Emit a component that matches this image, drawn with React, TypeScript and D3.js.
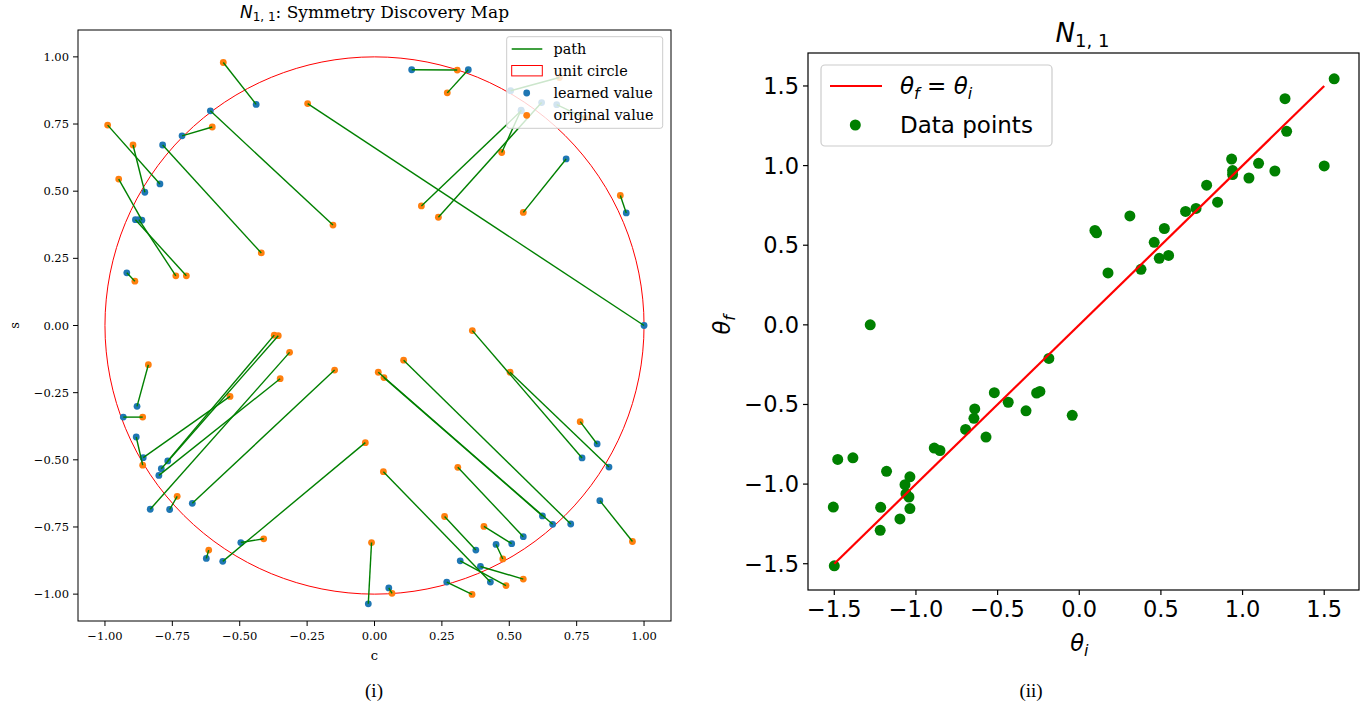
import React from 'react';
import * as d3 from 'd3';

// ---------- Left panel data: original value (c, s) -> learned value (c, s) ----------
const origC = [-0.561, -0.248, -0.154, -0.602, -0.990, -0.896, -0.420, -0.949, -0.737, -0.698, -0.889,
  0.307, 0.270, 0.686, 0.472, 0.237, 0.174, 0.781, 0.552, 0.912,
  -0.839, -0.860, -0.860, -0.536, -0.372, -0.357, -0.350, -0.315, -0.148, -0.732, -0.411, -0.034, -0.615, -0.011,
  0.363, 0.503, 0.763, 0.108, 0.014, 0.035, 0.957, 0.033, 0.309, 0.260, 0.406, 0.476, 0.488, 0.552, 0.362, 0.065];
const origS = [0.979, 0.826, 0.374, 0.739, 0.746, 0.672, 0.270, 0.545, 0.185, 0.185, 0.165,
  0.951, 0.866, 0.923, 0.644, 0.403, 0.445, 0.772, 0.421, 0.484,
  -0.146, -0.341, -0.520, -0.264, -0.036, -0.038, -0.198, -0.100, -0.166, -0.636, -0.794, -0.436, -0.836, -0.808,
  -0.019, -0.174, -0.358, -0.129, -0.174, -0.194, -0.804, -0.544, -0.528, -0.711, -0.748, -0.869, -0.968, -0.944, -1.001, -0.997];
const learnC = [-0.439, 1.0, -0.609, -0.714, -0.796, -0.852, -0.786, -0.863, -0.874, -0.887, -0.919,
  0.138, 0.348, 0.505, 0.544, 0.620, 0.544, 0.676, 0.711, 0.934,
  -0.881, -0.932, -0.884, -0.858, -0.767, -0.791, -0.800, -0.832, -0.676, -0.760, -0.496, -0.563, -0.624, -0.023,
  0.770, 0.870, 0.826, 0.728, 0.661, 0.623, 0.836, 0.430, 0.552, 0.376, 0.509, 0.451, 0.318, 0.393, 0.268, 0.053];
const learnS = [0.823, 0.0, 0.799, 0.706, 0.527, 0.496, 0.672, 0.392, 0.394, 0.394, 0.196,
  0.952, 0.952, 0.874, 0.802, 0.830, 0.799, 0.822, 0.620, 0.419,
  -0.301, -0.341, -0.415, -0.492, -0.504, -0.533, -0.558, -0.684, -0.662, -0.685, -0.808, -0.878, -0.867, -1.036,
  -0.493, -0.527, -0.441, -0.739, -0.740, -0.709, -0.652, -0.955, -0.786, -0.836, -0.812, -0.815, -0.876, -0.897, -0.955, -0.977];

// ---------- Right panel data: theta_i vs theta_f ----------
const thetaI = [1.561, 1.260, 1.270, 1.500, 0.933, 0.939, 0.939, 1.098, 1.198, 1.039, 0.780, 0.847, 0.715, 0.651,
  0.310, 0.096, 0.106, 0.521, 0.459, 0.490, 0.547, 0.378, 0.176,
  -1.280, -0.186, -0.520, -0.435, -0.261, -0.241, -0.326, -0.043, -0.640, -0.645, -0.696, -0.571, -0.888, -0.853,
  -1.479, -1.386, -1.180, -1.037, -1.067, -1.061, -1.043, -1.037, -1.506, -1.216, -1.098, -1.219, -1.500];
const thetaF = [1.545, 1.420, 1.215, 0.998, 1.041, 0.969, 0.944, 1.014, 0.966, 0.922, 0.877, 0.770, 0.731, 0.712,
  0.684, 0.593, 0.578, 0.605, 0.518, 0.418, 0.436, 0.349, 0.326,
  0.0, -0.211, -0.426, -0.486, -0.428, -0.418, -0.540, -0.568, -0.528, -0.587, -0.657, -0.705, -0.774, -0.789,
  -0.845, -0.835, -0.920, -0.954, -1.004, -1.060, -1.081, -1.154, -1.144, -1.146, -1.219, -1.290, -1.513];
const identityLine = [-1.5, 1.5];

const leftTicks = [-1, -0.75, -0.5, -0.25, 0, 0.25, 0.5, 0.75, 1];
const rightTicks = [-1.5, -1, -0.5, 0, 0.5, 1, 1.5];
const leftLegend = ['path', 'unit circle', 'learned value', 'original value'];

const BLUE = '#1f77b4';
const ORANGE = '#ff7f0e';
const GREEN = '#008000';
const RED = '#ff0000';
const SERIF = '"DejaVu Serif", serif';
const SANS = '"DejaVu Sans", sans-serif';

export default function App() {
  // Left scales
  const xL = d3.scaleLinear().domain([-1.1, 1.1]).range([78, 671]);
  const yL = d3.scaleLinear().domain([-1.1, 1.1]).range([621, 30]);
  // Right scales
  const xR = d3.scaleLinear().domain([-1.661, 1.713]).range([808, 1359]);
  const yR = d3.scaleLinear().domain([-1.665, 1.707]).range([590, 53]);

  const f2 = d3.format('.2f');
  const f1 = d3.format('.1f');

  const pairs = origC.map((c, i) => ({ oc: c, os: origS[i], lc: learnC[i], ls: learnS[i] }));
  const pts = thetaI.map((t, i) => ({ x: t, y: thetaF[i] }));
  const line = d3.line<number>().x((d) => xR(d)).y((d) => yR(d));

  const lx0 = xL.range()[0], lx1 = xL.range()[1];
  const ly0 = yL.range()[1], ly1 = yL.range()[0];
  const rx0 = xR.range()[0], rx1 = xR.range()[1];
  const ry0 = yR.range()[1], ry1 = yR.range()[0];

  return (
    <svg width={1364} height={702} style={{ position: 'absolute', left: 0, top: 0, background: '#fff' }}>
      <rect x={0} y={0} width={1364} height={702} fill="#fff" />

      {/* ================= LEFT PANEL ================= */}
      <defs>
        <clipPath id="clipL">
          <rect x={lx0} y={ly0} width={lx1 - lx0} height={ly1 - ly0} />
        </clipPath>
      </defs>
      <g clipPath="url(#clipL)">
        <ellipse cx={xL(0)} cy={yL(0)} rx={xL(1) - xL(0)} ry={yL(0) - yL(1)} fill="none" stroke={RED} strokeWidth={1} />
        {pairs.map((p, i) => (
          <circle key={'b' + i} cx={xL(p.lc)} cy={yL(p.ls)} r={3.4} fill={BLUE} />
        ))}
        {pairs.map((p, i) => (
          <circle key={'o' + i} cx={xL(p.oc)} cy={yL(p.os)} r={3.4} fill={ORANGE} />
        ))}
        {pairs.map((p, i) => (
          <line key={'l' + i} x1={xL(p.oc)} y1={yL(p.os)} x2={xL(p.lc)} y2={yL(p.ls)} stroke={GREEN} strokeWidth={1.4} />
        ))}
      </g>
      {/* left frame */}
      <rect x={lx0} y={ly0} width={lx1 - lx0} height={ly1 - ly0} fill="none" stroke="#000" strokeWidth={1} />
      {/* left x ticks */}
      {leftTicks.map((t) => (
        <g key={'lx' + t}>
          <line x1={xL(t)} x2={xL(t)} y1={ly1} y2={ly1 + 5} stroke="#000" strokeWidth={1} />
          <text x={xL(t)} y={ly1 + 19} textAnchor="middle" fontFamily={SERIF} fontSize={11.5} fill="#000">{f2(t)}</text>
        </g>
      ))}
      {leftTicks.map((t) => (
        <g key={'ly' + t}>
          <line x1={lx0 - 5} x2={lx0} y1={yL(t)} y2={yL(t)} stroke="#000" strokeWidth={1} />
          <text x={lx0 - 9} y={yL(t) + 4} textAnchor="end" fontFamily={SERIF} fontSize={11.5} fill="#000">{f2(t)}</text>
        </g>
      ))}
      <text x={xL(0)} y={660} textAnchor="middle" fontFamily={SERIF} fontSize={13} fill="#000">c</text>
      <text transform={`translate(19, ${yL(0)}) rotate(-90)`} textAnchor="middle" fontFamily={SERIF} fontSize={13} fill="#000">s</text>
      {/* left title */}
      <text x={xL(0)} y={17.5} textAnchor="middle" fontSize={17} fill="#000">
        <tspan fontFamily={SANS} fontStyle="italic">N</tspan>
        <tspan fontFamily={SANS} fontSize={12} dy={3.5}>1, 1</tspan>
        <tspan fontFamily={SERIF} dy={-3.5}>: Symmetry Discovery Map</tspan>
      </text>
      {/* left legend */}
      <g>
        <rect x={506.7} y={36.7} width={156} height={91.6} rx={2.5} fill="#fff" fillOpacity={0.8} stroke="#cccccc" strokeWidth={1} />
        <line x1={511.7} x2={542.3} y1={49} y2={49} stroke={GREEN} strokeWidth={1.5} />
        <rect x={511.7} y={65.5} width={30.6} height={10.4} fill="none" stroke={RED} strokeWidth={1} />
        <circle cx={526.7} cy={93} r={3.4} fill={BLUE} />
        <circle cx={526.7} cy={115.3} r={3.4} fill={ORANGE} />
        {leftLegend.map((s, i) => (
          <text key={s} x={553.5} y={54 + i * 22.1} fontFamily={SERIF} fontSize={14.4} fill="#000">{s}</text>
        ))}
      </g>

      {/* ================= RIGHT PANEL ================= */}
      {pts.map((p, i) => (
        <circle key={'p' + i} cx={xR(p.x)} cy={yR(p.y)} r={5.5} fill={GREEN} />
      ))}
      <path d={line(identityLine) || ''} stroke={RED} strokeWidth={2.2} fill="none" />
      <rect x={rx0} y={ry0} width={rx1 - rx0} height={ry1 - ry0} fill="none" stroke="#000" strokeWidth={1.2} />
      {rightTicks.map((t) => (
        <g key={'rx' + t}>
          <line x1={xR(t)} x2={xR(t)} y1={ry1} y2={ry1 + 5} stroke="#000" strokeWidth={1.2} />
          <text x={xR(t)} y={ry1 + 27} textAnchor="middle" fontFamily={SANS} fontSize={22.5} fill="#000">{f1(t)}</text>
        </g>
      ))}
      {rightTicks.map((t) => (
        <g key={'ry' + t}>
          <line x1={rx0 - 5} x2={rx0} y1={yR(t)} y2={yR(t)} stroke="#000" strokeWidth={1.2} />
          <text x={rx0 - 9} y={yR(t) + 8} textAnchor="end" fontFamily={SANS} fontSize={22.5} fill="#000">{f1(t)}</text>
        </g>
      ))}
      {/* x label theta_i */}
      <text x={xR(0)} y={651} textAnchor="middle" fontFamily={SANS} fontSize={22.5} fill="#000">
        <tspan fontStyle="italic">θ</tspan>
        <tspan fontStyle="italic" fontSize={16} dy={5}>i</tspan>
      </text>
      {/* y label theta_f */}
      <text transform={`translate(730, ${yR(0)}) rotate(-90)`} textAnchor="middle" fontFamily={SANS} fontSize={22.5} fill="#000">
        <tspan fontStyle="italic">θ</tspan>
        <tspan fontStyle="italic" fontSize={16} dy={5}>f</tspan>
      </text>
      {/* right title */}
      <text x={1082.5} y={42} textAnchor="middle" fontFamily={SANS} fontSize={26} fill="#000">
        <tspan fontStyle="italic">N</tspan>
        <tspan fontSize={18} dy={5}>1, 1</tspan>
      </text>
      {/* right legend */}
      <g>
        <rect x={821} y={65} width={231} height={81} rx={4} fill="#fff" fillOpacity={0.8} stroke="#cccccc" strokeWidth={1.2} />
        <line x1={830} x2={882} y1={86} y2={86} stroke={RED} strokeWidth={2.2} />
        <circle cx={855.3} cy={125} r={5.5} fill={GREEN} />
        <text x={900} y={94} fontFamily={SANS} fontSize={23} fill="#000">
          <tspan fontStyle="italic">θ</tspan>
          <tspan fontStyle="italic" fontSize={16} dy={5}>f</tspan>
          <tspan dy={-5}> = </tspan>
          <tspan fontStyle="italic">θ</tspan>
          <tspan fontStyle="italic" fontSize={16} dy={5}>i</tspan>
        </text>
        <text x={900} y={133} fontFamily={SANS} fontSize={23} fill="#000">Data points</text>
      </g>

      {/* captions */}
      <text x={374} y={697} textAnchor="middle" fontFamily={'"Liberation Serif", serif'} fontSize={19} fill="#000">(i)</text>
      <text x={1031} y={697} textAnchor="middle" fontFamily={'"Liberation Serif", serif'} fontSize={19} fill="#000">(ii)</text>
    </svg>
  );
}
